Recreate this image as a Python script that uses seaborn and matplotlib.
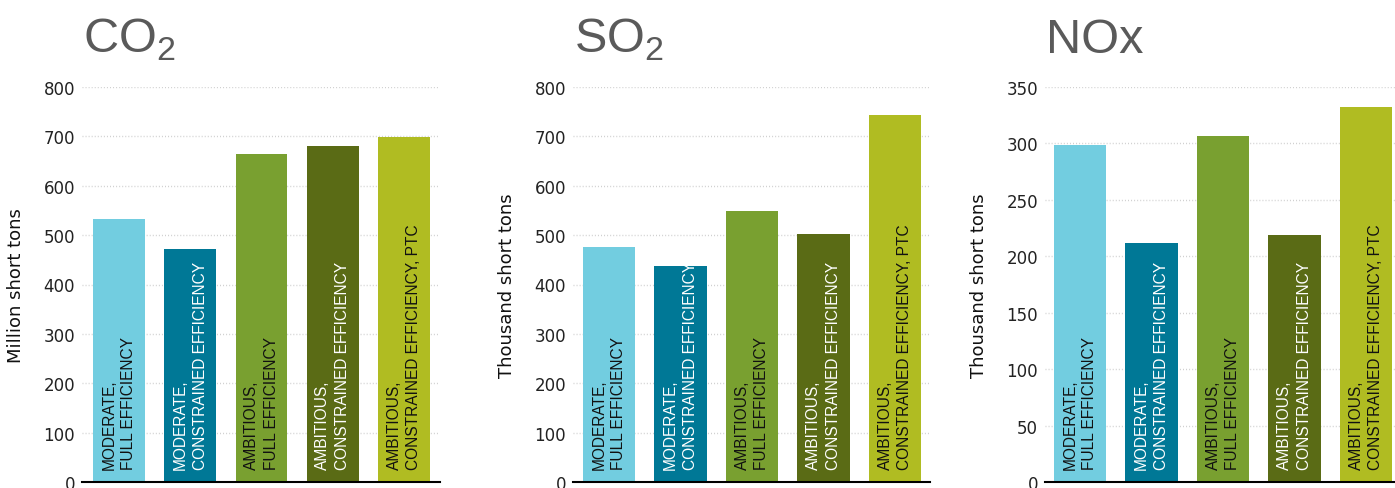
import matplotlib
matplotlib.use("Agg")
import matplotlib.pyplot as plt
import seaborn as sns
import pandas as pd

# ---------------- data ----------------
scenarios = [
    "MODERATE,\nFULL EFFICIENCY",
    "MODERATE,\nCONSTRAINED EFFICIENCY",
    "AMBITIOUS,\nFULL EFFICIENCY",
    "AMBITIOUS,\nCONSTRAINED EFFICIENCY",
    "AMBITIOUS,\nCONSTRAINED EFFICIENCY, PTC",
]
co2_values = [532, 472, 664, 680, 698]   # million short tons
so2_values = [476, 437, 549, 502, 743]   # thousand short tons
nox_values = [299, 212, 307, 219, 332]   # thousand short tons

titles = [r"CO$_{\mathregular{2}}$", r"SO$_{\mathregular{2}}$", "NOx"]
ylabels = ["Million short tons", "Thousand short tons", "Thousand short tons"]
yticks = [list(range(0, 801, 100)), list(range(0, 801, 100)), list(range(0, 351, 50))]

colors = ["#72CDE0", "#007896", "#79A030", "#5A6B15", "#B0BC22"]
label_colors = ["#111111", "#ffffff", "#111111", "#ffffff", "#111111"]

# ---------------- style ----------------
sns.set_theme(style="white")
plt.rcParams["font.family"] = ["Liberation Sans", "DejaVu Sans"]
plt.rcParams["mathtext.fontset"] = "custom"
plt.rcParams["mathtext.rm"] = "Liberation Sans"

W, H = 1395, 489
fig = plt.figure(figsize=(W / 100, H / 100), dpi=100)

# axes geometry in pixels: left, right, first bar centre, bar spacing
geom = [
    (82, 440, 119, 71.25),
    (573, 930, 609, 71.5),
    (1045, 1395, 1080, 71.5),
]
y_top_px, y_bot_px = 88, 483

series = [co2_values, so2_values, nox_values]

for k, (vals, (l, r, c0, sp)) in enumerate(zip(series, geom)):
    ax = fig.add_axes([l / W, (H - y_bot_px) / H, (r - l) / W, (y_bot_px - y_top_px) / H])
    df = pd.DataFrame({"scenario": scenarios, "value": vals})
    sns.barplot(data=df, x="scenario", y="value", hue="scenario",
                palette=colors, legend=False, width=0.728, ax=ax,
                saturation=1, edgecolor="none", linewidth=0)
    ax.set_xlim(-(c0 - l) / sp, 4 + (r - (c0 + 4 * sp)) / sp)
    ax.set_ylim(0, yticks[k][-1])
    ax.set_yticks(yticks[k])
    ax.set_xticks([])
    ax.set_xlabel("")
    ax.set_ylabel(ylabels[k], fontsize=13, family="DejaVu Sans", color="#111111", labelpad=13)
    ax.tick_params(axis="y", length=0, pad=5, labelsize=12, labelcolor="#222222")
    for t in ax.get_yticklabels():
        t.set_family("DejaVu Sans")
    # dotted gridlines
    for yv in yticks[k][1:]:
        ax.axhline(yv, color="#cfcfcf", lw=1, ls=(0, (0.7, 1.5)), zorder=0)
    ax.set_axisbelow(True)
    for s in ["top", "right", "left"]:
        ax.spines[s].set_visible(False)
    ax.spines["bottom"].set_color("#000000")
    ax.spines["bottom"].set_linewidth(1.5)
    # title
    ax.text(0.003, 1 + 35 / (y_bot_px - y_top_px), titles[k], transform=ax.transAxes,
            ha="left", va="baseline", fontsize=35, color="#5a5a5a")
    # bar labels
    for i, name in enumerate(scenarios):
        ax.annotate(name, xy=(i, 0), xytext=(0, 9.5), textcoords="offset points",
                    rotation=90, ha="center", va="bottom", multialignment="left",
                    fontsize=11.2, color=label_colors[i], linespacing=1.4)

fig.savefig("out.png", dpi=100)
